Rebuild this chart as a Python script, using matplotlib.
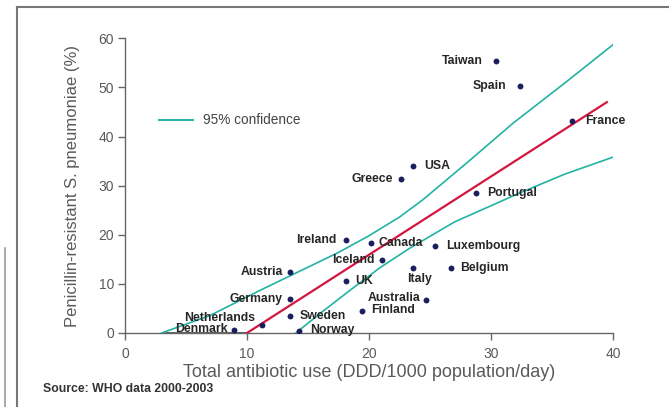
import matplotlib
matplotlib.use("Agg")
import matplotlib.pyplot as plt
from matplotlib.lines import Line2D

plt.rcParams['font.family'] = ['Liberation Sans', 'DejaVu Sans']

# Country data: total antibiotic use vs. penicillin-resistant S. pneumoniae
countries = ["Taiwan", "Spain", "France", "USA", "Greece", "Portugal", "Ireland",
             "Canada", "Luxembourg", "Iceland", "Austria", "Italy", "Belgium", "UK",
             "Germany", "Australia", "Finland", "Sweden", "Netherlands", "Denmark", "Norway"]
use = [30.4, 32.35, 36.6, 23.64, 22.66, 28.77, 18.08,
       20.13, 25.45, 21.1, 13.5, 23.64, 26.7, 18.08,
       13.5, 24.7, 19.4, 13.5, 11.24, 8.93, 14.25]
resistance = [55.3, 50.3, 43.2, 33.9, 31.4, 28.45, 18.9,
              18.4, 17.7, 14.9, 12.4, 13.3, 13.2, 10.6,
              7.0, 6.8, 4.5, 3.4, 1.7, 0.67, 0.47]

# Regression line and 95% confidence band
fit_x = [10.0, 39.5]
fit_y = [0.0, 47.0]
upper_x = [3.0, 7.0, 11.0, 14.5, 17.5, 20.0, 22.5, 24.4, 28.0, 31.8, 36.0, 40.0]
upper_y = [0.0, 3.6, 8.6, 12.8, 16.4, 19.8, 23.6, 27.1, 34.6, 42.7, 50.8, 58.7]
lower_x = [14.0, 16.0, 18.5, 20.9, 23.3, 27.0, 32.35, 36.0, 40.0]
lower_y = [0.0, 4.0, 8.8, 13.3, 17.2, 22.6, 28.5, 32.3, 35.8]
floor_x = [3.0, 10.0]
floor_y = [0.0, 0.0]

xticks = [0, 10, 20, 30, 40]
yticks = [0, 10, 20, 30, 40, 50, 60]

# Label placement: (horizontal alignment, dx, dy) in points
placement = {
    "Taiwan": ("right", -9.5, 0), "Spain": ("right", -10, 0), "France": ("left", 9.5, 0),
    "USA": ("left", 7.5, 0), "Greece": ("right", -6, 0), "Portugal": ("left", 8, 0),
    "Ireland": ("right", -6.5, 0), "Canada": ("left", 6, 0), "Luxembourg": ("left", 7.5, 0),
    "Iceland": ("right", -5.5, 0), "Austria": ("right", -5, 0), "Italy": ("center", 4.5, -8),
    "Belgium": ("left", 7, 0), "UK": ("left", 7, 0), "Germany": ("right", -5, 0),
    "Australia": ("right", -4.5, 1), "Finland": ("left", 6.5, 1), "Sweden": ("left", 7, 0),
    "Netherlands": ("right", -5, 4.8), "Denmark": ("right", -4.5, 0.5), "Norway": ("left", 8, 0.7),
}

TEAL = "#22b3a2"
RED = "#d4153f"
DOT = "#1c1f5e"
GREY = "#5a5a5a"

fig = plt.figure(figsize=(6.69, 4.07), dpi=100)
ax = fig.add_axes([125 / 669, 1 - 333 / 407, 488 / 669, (333 - 38.3) / 407])

ax.plot(floor_x, floor_y, color="#3a3a3a", lw=1.8, solid_capstyle="butt", zorder=3)
ax.plot(upper_x, upper_y, color=TEAL, lw=1.2, zorder=3)
ax.plot(lower_x, lower_y, color=TEAL, lw=1.2, zorder=3)
ax.plot(fit_x, fit_y, color=RED, lw=1.6, zorder=4)
ax.scatter(use, resistance, s=18, color=DOT, zorder=5, linewidths=0)

for name, x, y in zip(countries, use, resistance):
    ha, dx, dy = placement[name]
    ax.annotate(name, (x, y), xytext=(dx, dy), textcoords="offset points",
                ha=ha, va="center", fontsize=8.8, fontweight="bold", color="#262626", zorder=6)

# legend entry for the confidence band
ax.add_line(Line2D([2.75, 5.6], [43.4, 43.4], color=TEAL, lw=1.4))
ax.text(6.4, 43.4, "95% confidence", fontsize=9.8, color="#444444", va="center", ha="left")

ax.set_xlim(0, 40)
ax.set_ylim(0, 60)
ax.set_xticks(xticks)
ax.set_yticks(yticks)
for side in ("top", "right"):
    ax.spines[side].set_visible(False)
for side in ("left", "bottom"):
    ax.spines[side].set_color("#666666")
    ax.spines[side].set_linewidth(1.0)
ax.tick_params(axis="both", colors="#666666", labelcolor=GREY, labelsize=10, length=5, width=1.0)
ax.tick_params(axis="x", pad=5)
ax.tick_params(axis="y", pad=3)
for spine in ax.spines.values():
    spine.set_zorder(2)

ax.set_xlabel("Total antibiotic use (DDD/1000 population/day)", fontsize=13, color=GREY, labelpad=2)
ax.set_ylabel("Penicillin-resistant S. pneumoniae (%)", fontsize=12, color=GREY, labelpad=13)

fig.text(43 / 669, 1 - 389 / 407, "Source: WHO data 2000-2003", fontsize=8.8,
         fontweight="bold", color="#333333", ha="left", va="center")

# page frame
fig.add_artist(Line2D([17 / 669, 1], [1 - 7 / 407, 1 - 7 / 407], color="#777777", lw=1.5))
fig.add_artist(Line2D([17 / 669, 17 / 669], [0, 1 - 7 / 407], color="#777777", lw=1.5))
fig.add_artist(Line2D([5 / 669, 5 / 669], [0, 1 - 248 / 407], color="#999999", lw=1.2))

fig.savefig("out.png", dpi=100)
